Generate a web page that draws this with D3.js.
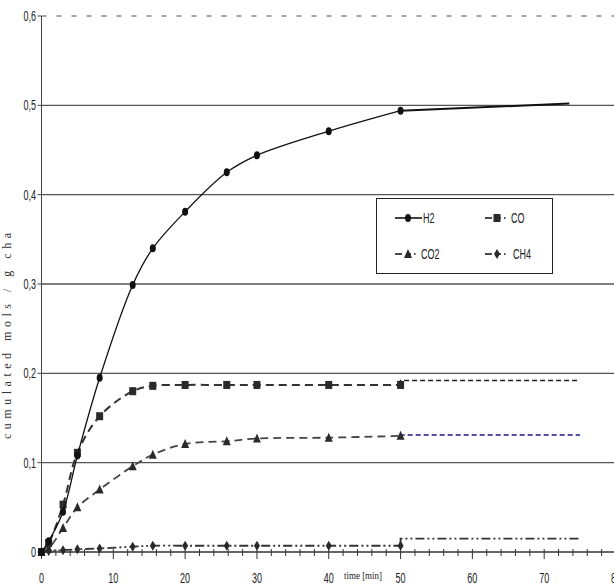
<!DOCTYPE html>
<html lang="en">
<head>
  <meta charset="UTF-8" />
  <title>Cumulated gas production</title>
  <script src="https://cdn.jsdelivr.net/npm/d3@7"></script>
  <style>
    body { margin: 0; background: #fff; }
    .num { font-family: "Liberation Sans Narrow", "Liberation Sans", sans-serif; font-size: 15px; fill: #222; }
  </style>
</head>
<body>
<script>
  // sampling times (min) and cumulated mols / g char for each gas
  const times = [0, 1, 3, 5, 8.1, 12.7, 15.5, 20, 25.8, 30, 40, 50];
  const h2  = [0, 0.012, 0.045, 0.108, 0.195, 0.299, 0.340, 0.381, 0.425, 0.444, 0.471, 0.494];
  const co  = [0, 0.010, 0.053, 0.111, 0.152, 0.180, 0.186, 0.187, 0.187, 0.187, 0.187, 0.187];
  const co2 = [0, 0.004, 0.027, 0.050, 0.070, 0.096, 0.109, 0.121, 0.124, 0.127, 0.128, 0.130];
  const ch4 = [0, 0.001, 0.002, 0.003, 0.004, 0.006, 0.007, 0.007, 0.007, 0.007, 0.007, 0.007];

  // extrapolated plateaus drawn after the last sample
  const extStart = 50;
  const extEnd   = [73.5, 75, 75, 75];
  const extValue = [[0.494, 0.502], [0.192, 0.192], [0.131, 0.131], [0.015, 0.015]];

  const seriesNames = ["H2", "CO", "CO2", "CH4"];
  const legendLabels = ["H2", "CO", "CO2", "CH4"];
  const xTicks = [0, 10, 20, 30, 40, 50, 60, 70, 80];
  const yTicks = [0, 0.1, 0.2, 0.3, 0.4, 0.5, 0.6];

  const W = 614, H = 588;
  const svg = d3.select("body").append("svg").attr("width", W).attr("height", H);

  const x = d3.scaleLinear().domain([0, 80]).range([41.5, 616]);
  const y = d3.scaleLinear().domain([0, 0.6]).range([552, 16]);

  // horizontal gridlines
  svg.selectAll("line.grid")
    .data(yTicks.filter(d => d > 0))
    .enter().append("line")
    .attr("x1", x(0)).attr("x2", W)
    .attr("y1", d => y(d)).attr("y2", d => y(d))
    .attr("stroke", d => d === 0.6 ? "#888" : "#555")
    .attr("stroke-width", 1.3)
    .attr("stroke-dasharray", d => d === 0.6 ? "5,10" : null);

  // y axis
  svg.append("line")
    .attr("x1", x(0)).attr("x2", x(0)).attr("y1", y(0.6)).attr("y2", y(0))
    .attr("stroke", "#444");
  svg.selectAll("line.yt").data(yTicks).enter().append("line")
    .attr("x1", x(0) - 4).attr("x2", x(0))
    .attr("y1", d => y(d)).attr("y2", d => y(d))
    .attr("stroke", "#444");
  svg.selectAll("g.ylab").data(yTicks).enter().append("g")
    .attr("transform", d => `translate(36,${y(d) + 5}) scale(0.6,1)`)
    .append("text").attr("class", "num").attr("text-anchor", "end")
    .text(d => d === 0 ? "0" : d3.format(".1f")(d).replace(".", ","));

  // x axis
  svg.append("line")
    .attr("x1", x(0)).attr("x2", W).attr("y1", y(0)).attr("y2", y(0))
    .attr("stroke", "#333").attr("stroke-width", 1.3);
  svg.selectAll("line.xt").data(d3.range(0, 82, 2)).enter().append("line")
    .attr("x1", d => x(d)).attr("x2", d => x(d))
    .attr("y1", y(0) - 3).attr("y2", d => y(0) + (d % 10 === 0 ? 7 : 4))
    .attr("stroke", "#333");
  svg.selectAll("g.xlab").data(xTicks).enter().append("g")
    .attr("transform", d => `translate(${x(d)},583) scale(0.6,1)`)
    .append("text").attr("class", "num").attr("text-anchor", "middle")
    .text(d => d);

  // axis titles
  svg.append("text")
    .attr("x", 363).attr("y", 579)
    .attr("text-anchor", "middle")
    .attr("textLength", 38).attr("lengthAdjust", "spacingAndGlyphs")
    .style("font", "11px 'Liberation Serif', serif").style("fill", "#222")
    .text("time [min]");
  svg.append("text")
    .attr("transform", "translate(11,336) rotate(-90)")
    .attr("text-anchor", "middle")
    .attr("textLength", 206).attr("lengthAdjust", "spacing")
    .style("font", "12px 'Liberation Serif', serif").style("fill", "#333")
    .text("cumulated mols / g cha");

  const styles = [
    { stroke: "#111", width: 1.3, dash: null },
    { stroke: "#333", width: 2, dash: "8,5" },
    { stroke: "#444", width: 1.8, dash: "8,5" },
    { stroke: "#333", width: 1.8, dash: "9,3,2,3,2,3" }
  ];
  const extStyles = [
    { stroke: "#111", width: 2, dash: null },
    { stroke: "#222", width: 1.6, dash: "5,3" },
    { stroke: "#1a1a8a", width: 1.6, dash: "5,3" },
    { stroke: "#333", width: 1.8, dash: "9,3,2,3,2,3" }
  ];

  const values = [h2, co, co2, ch4];
  const line = d3.line().x(d => x(d[0])).y(d => y(d[1])).curve(d3.curveCatmullRom.alpha(0.5));
  const plain = d3.line().x(d => x(d[0])).y(d => y(d[1]));

  // plateau extensions
  values.forEach((vals, i) => {
    const last = vals[vals.length - 1];
    const pts = [[extStart, last], [extStart, extValue[i][0]], [extEnd[i], extValue[i][1]]];
    svg.append("path").attr("d", plain(pts))
      .attr("fill", "none")
      .attr("stroke", extStyles[i].stroke)
      .attr("stroke-width", extStyles[i].width)
      .attr("stroke-dasharray", extStyles[i].dash);
  });

  // marker shapes
  function marker(g, i, cx, cy) {
    if (i === 0) {
      g.append("ellipse").attr("cx", cx).attr("cy", cy).attr("rx", 3).attr("ry", 4).attr("fill", "#111");
    } else if (i === 1) {
      g.append("rect").attr("x", cx - 3.5).attr("y", cy - 4).attr("width", 7).attr("height", 8).attr("fill", "#2a2a2a");
    } else if (i === 2) {
      g.append("path").attr("d", `M${cx},${cy - 5}L${cx + 4},${cy + 4}L${cx - 4},${cy + 4}Z`).attr("fill", "#2a2a2a");
    } else {
      g.append("path").attr("d", `M${cx},${cy - 5}L${cx + 3},${cy}L${cx},${cy + 5}L${cx - 3},${cy}Z`).attr("fill", "#2a2a2a");
    }
  }

  // series lines and markers (CH4 first so H2 stays on top)
  [3, 2, 1, 0].forEach(i => {
    const pts = times.map((t, k) => [t, values[i][k]]);
    svg.append("path").attr("d", line(pts))
      .attr("fill", "none")
      .attr("stroke", styles[i].stroke)
      .attr("stroke-width", styles[i].width)
      .attr("stroke-dasharray", styles[i].dash);
    const g = svg.append("g").attr("class", "markers-" + seriesNames[i]);
    pts.forEach(p => marker(g, i, x(p[0]), y(p[1])));
  });

  // legend
  const lg = svg.append("g");
  lg.append("rect").attr("x", 376.5).attr("y", 198.5).attr("width", 176).attr("height", 75)
    .attr("fill", "#fff").attr("stroke", "#222");
  const legendPos = [[395, 218], [485, 218], [395, 254], [485, 254]];
  const legendDash = [null, "7,4,5,3,1.5", "7,4,5,3,1.5", "7,4,5,3,1.5"];
  seriesNames.forEach((name, i) => {
    const [lx, ly] = legendPos[i];
    const len = i === 0 ? 27 : 25;
    lg.append("line").attr("x1", lx).attr("x2", lx + len).attr("y1", ly).attr("y2", ly)
      .attr("stroke", "#111").attr("stroke-width", 1.6)
      .attr("stroke-dasharray", legendDash[i]);
    marker(lg, i, lx + (i % 2 === 0 ? 13 : 12), ly);
    lg.append("g").attr("transform", `translate(${lx + len + (i === 3 ? 3 : 1)},${ly + 5}) scale(0.6,1)`)
      .append("text").attr("class", "num").text(legendLabels[i]);
  });
</script>
</body>
</html>
